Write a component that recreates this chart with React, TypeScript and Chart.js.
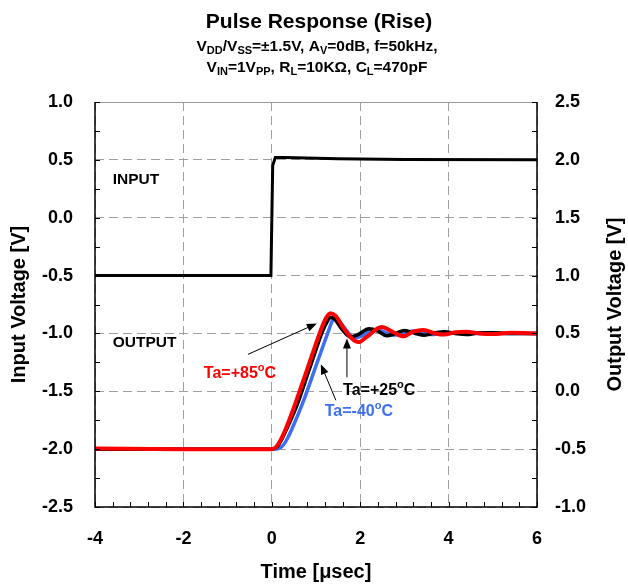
import React, { useEffect, useRef } from "react";
import { Chart, registerables } from "chart.js";

Chart.register(...registerables);

// ---------- data ----------
const inputTime = [-4, -0.02, 0.02, 0.08, 0.3, 1.5, 3, 6];
const inputVolt = [-0.5, -0.5, 0.45, 0.52, 0.52, 0.51, 0.503, 0.5];

const timeM40 = [-4, -2, 0.05, 0.15, 0.25, 0.35, 0.45, 0.7, 1.0, 1.3, 1.37, 1.43, 1.52, 1.68, 1.88, 2.05, 2.3, 2.5, 2.75, 3.0, 3.2, 3.45, 3.65, 3.9, 4.3, 5, 6];
const voltM40 = [-0.5, -0.5, -0.5, -0.495, -0.47, -0.41, -0.33, -0.1, 0.22, 0.54, 0.61, 0.635, 0.61, 0.53, 0.46, 0.48, 0.535, 0.52, 0.485, 0.5, 0.52, 0.5, 0.49, 0.51, 0.5, 0.5, 0.5];

const time25 = [-4, -2, 0, 0.12, 0.22, 0.32, 0.55, 0.85, 1.15, 1.25, 1.33, 1.43, 1.58, 1.78, 1.95, 2.2, 2.4, 2.6, 2.8, 3.0, 3.25, 3.45, 3.7, 3.9, 4.15, 4.4, 4.7, 5.0, 5.5, 6];
const volt25 = [-0.5, -0.5, -0.5, -0.48, -0.42, -0.34, -0.14, 0.19, 0.52, 0.6, 0.64, 0.62, 0.54, 0.47, 0.49, 0.54, 0.52, 0.48, 0.5, 0.525, 0.5, 0.485, 0.505, 0.515, 0.5, 0.49, 0.505, 0.505, 0.5, 0.5];

const time85 = [-4, -2, 0, 0.1, 0.2, 0.3, 0.5, 0.8, 1.1, 1.22, 1.33, 1.45, 1.6, 1.8, 1.96, 2.15, 2.48, 2.75, 2.98, 3.2, 3.43, 3.7, 3.9, 4.15, 4.4, 4.7, 5.0, 5.4, 6];
const volt85 = [-0.495, -0.5, -0.5, -0.48, -0.42, -0.34, -0.14, 0.19, 0.52, 0.63, 0.675, 0.65, 0.56, 0.46, 0.425, 0.47, 0.555, 0.51, 0.475, 0.515, 0.53, 0.5, 0.49, 0.51, 0.515, 0.5, 0.495, 0.505, 0.5];

const xTicks = [-4, -2, 0, 2, 4, 6];
const leftTicks = [1.0, 0.5, 0.0, -0.5, -1.0, -1.5, -2.0, -2.5];
const rightTicks = [2.5, 2.0, 1.5, 1.0, 0.5, 0.0, -0.5, -1.0];

const FONT = "'Liberation Sans', Arial, Helvetica, sans-serif";
const BLUE = "#3d6ff2";
const RED = "#ff0000";

type Run = [string, number]; // 0 normal, 1 sub, 2 sup

function drawRuns(ctx: CanvasRenderingContext2D, runs: Run[], cx: number, y: number, size: number, color: string, align: "center" | "left" = "center") {
  const small = Math.round(size * 0.68);
  const widths = runs.map(([t, m]) => {
    ctx.font = `bold ${m ? small : size}px ${FONT}`;
    return ctx.measureText(t).width;
  });
  const total = widths.reduce((a, b) => a + b, 0);
  let x = align === "center" ? cx - total / 2 : cx;
  ctx.fillStyle = color;
  ctx.textAlign = "left";
  ctx.textBaseline = "alphabetic";
  runs.forEach(([t, m], i) => {
    ctx.font = `bold ${m ? small : size}px ${FONT}`;
    const dy = m === 1 ? size * 0.22 : m === 2 ? -size * 0.45 : 0;
    ctx.fillText(t, x, y + dy);
    x += widths[i];
  });
}

function arrow(ctx: CanvasRenderingContext2D, x1: number, y1: number, x2: number, y2: number) {
  const ang = Math.atan2(y2 - y1, x2 - x1);
  const hl = 10, hw = 4;
  ctx.strokeStyle = "#000";
  ctx.fillStyle = "#000";
  ctx.lineWidth = 1;
  ctx.beginPath();
  ctx.moveTo(x1, y1);
  ctx.lineTo(x2 - Math.cos(ang) * hl * 0.8, y2 - Math.sin(ang) * hl * 0.8);
  ctx.stroke();
  ctx.beginPath();
  ctx.moveTo(x2, y2);
  ctx.lineTo(x2 - Math.cos(ang) * hl - Math.sin(ang) * hw, y2 - Math.sin(ang) * hl + Math.cos(ang) * hw);
  ctx.lineTo(x2 - Math.cos(ang) * hl + Math.sin(ang) * hw, y2 - Math.sin(ang) * hl - Math.cos(ang) * hw);
  ctx.closePath();
  ctx.fill();
}

const decor = {
  id: "decor",
  afterDraw(chart: any) {
    const { ctx, chartArea: a } = chart;
    const xs = chart.scales.x, yl = chart.scales.y, yr = chart.scales.y2;
    ctx.save();
    // top border (gray)
    ctx.strokeStyle = "#9a9a9a";
    ctx.lineWidth = 1;
    ctx.setLineDash([]);
    ctx.beginPath();
    ctx.moveTo(a.left, a.top + 0.5);
    ctx.lineTo(a.right, a.top + 0.5);
    ctx.stroke();
    // minor ticks
    ctx.strokeStyle = "#000";
    ctx.lineWidth = 1;
    ctx.beginPath();
    for (let v = -4; v <= 6.001; v += 0.4) {
      const px = Math.round(xs.getPixelForValue(v)) + 0.5;
      ctx.moveTo(px, a.bottom);
      ctx.lineTo(px, a.bottom - 5);
    }
    for (let v = -2.5; v <= 1.001; v += 0.25) {
      const py = Math.round(yl.getPixelForValue(v)) + 0.5;
      ctx.moveTo(a.left, py);
      ctx.lineTo(a.left + 5, py);
      ctx.moveTo(a.right, py);
      ctx.lineTo(a.right - 5, py);
    }
    ctx.stroke();
    // frame: left, bottom, right
    ctx.lineWidth = 1.5;
    ctx.beginPath();
    ctx.moveTo(a.left, a.top);
    ctx.lineTo(a.left, a.bottom);
    ctx.lineTo(a.right, a.bottom);
    ctx.lineTo(a.right, a.top);
    ctx.stroke();

    // titles
    drawRuns(ctx, [["Pulse Response (Rise)", 0]], 319, 28, 21, "#000");
    drawRuns(ctx, [["V", 0], ["DD", 1], ["/V", 0], ["SS", 1], ["=±1.5V, A", 0], ["V", 1], ["=0dB, f=50kHz,", 0]], 317, 51, 15.5, "#000");
    drawRuns(ctx, [["V", 0], ["IN", 1], ["=1V", 0], ["PP", 1], [", R", 0], ["L", 1], ["=10KΩ, C", 0], ["L", 1], ["=470pF", 0]], 317, 72, 15.5, "#000");

    // axis titles
    ctx.fillStyle = "#000";
    ctx.font = `bold 20px ${FONT}`;
    ctx.textAlign = "center";
    ctx.textBaseline = "middle";
    ctx.fillText("Time [μsec]", (a.left + a.right) / 2, 572);
    const cy = (a.top + a.bottom) / 2;
    ctx.save();
    ctx.translate(19, cy);
    ctx.rotate(-Math.PI / 2);
    ctx.fillText("Input Voltage [V]", 0, 0);
    ctx.restore();
    ctx.save();
    ctx.translate(615, cy);
    ctx.rotate(-Math.PI / 2);
    ctx.fillText("Output Voltage [V]", 0, 0);
    ctx.restore();

    // labels
    const X = (v: number) => xs.getPixelForValue(v);
    const YL = (v: number) => yl.getPixelForValue(v);
    const YR = (v: number) => yr.getPixelForValue(v);
    drawRuns(ctx, [["INPUT", 0]], X(-3.6), YL(0.29), 15.5, "#000", "left");
    drawRuns(ctx, [["OUTPUT", 0]], X(-3.6), YL(-1.12), 15.5, "#000", "left");
    drawRuns(ctx, [["Ta=+85", 0], ["o", 2], ["C", 0]], X(-0.72), YR(0.112), 16, RED);
    drawRuns(ctx, [["Ta=+25", 0], ["o", 2], ["C", 0]], X(2.43), YR(-0.034), 16, "#000");
    drawRuns(ctx, [["Ta=-40", 0], ["o", 2], ["C", 0]], X(1.97), YR(-0.216), 16, BLUE);
    arrow(ctx, X(-0.54), YR(0.319), X(1.02), YR(0.586));
    arrow(ctx, X(1.7), YR(0.121), X(1.7), YR(0.457));
    arrow(ctx, X(1.45), YR(-0.078), X(1.11), YR(0.233));
    ctx.restore();
  },
};

const pts = (t: number[], v: number[]) => t.map((x, i) => ({ x, y: v[i] }));

export default function App() {
  const ref = useRef<HTMLCanvasElement>(null);
  useEffect(() => {
    const canvas = ref.current!;
    const tickFont = { family: FONT, size: 18, weight: "bold" as const };
    const chart = new Chart(canvas, {
      type: "scatter",
      data: {
        datasets: [
          { label: "input", data: pts(inputTime, inputVolt), yAxisID: "y", borderColor: "#000", borderWidth: 3, showLine: true, pointRadius: 0, tension: 0, order: 3 },
          { label: "Ta=-40", data: pts(timeM40, voltM40), yAxisID: "y2", borderColor: BLUE, borderWidth: 3.5, showLine: true, pointRadius: 0, cubicInterpolationMode: "monotone", order: 2 },
          { label: "Ta=+25", data: pts(time25, volt25), yAxisID: "y2", borderColor: "#000", borderWidth: 3.5, showLine: true, pointRadius: 0, cubicInterpolationMode: "monotone", order: 1 },
          { label: "Ta=+85", data: pts(time85, volt85), yAxisID: "y2", borderColor: RED, borderWidth: 4, showLine: true, pointRadius: 0, cubicInterpolationMode: "monotone", order: 0 },
        ] as any,
      },
      options: {
        responsive: false,
        animation: false,
        devicePixelRatio: 1,
        layout: { padding: { top: 102, left: 0, right: 0, bottom: 0 } },
        plugins: { legend: { display: false }, tooltip: { enabled: false }, title: { display: false } },
        scales: {
          x: {
            type: "linear",
            min: -4,
            max: 6,
            afterBuildTicks: (s: any) => { s.ticks = xTicks.map((value) => ({ value })); },
            afterFit: (s: any) => { s.height = 78; },
            ticks: { font: tickFont, color: "#000", padding: 21, autoSkip: false, maxRotation: 0, callback: (v: any) => String(v) },
            grid: { color: "#a0a0a0", lineWidth: 1, drawTicks: false },
            border: { display: false, dash: [9, 5] },
          },
          y: {
            type: "linear",
            position: "left",
            min: -2.5,
            max: 1.0,
            afterBuildTicks: (s: any) => { s.ticks = leftTicks.map((value) => ({ value })); },
            afterFit: (s: any) => { s.width = 95; },
            ticks: { font: tickFont, color: "#000", padding: 22, autoSkip: false, callback: (v: any) => Number(v).toFixed(1) },
            grid: { color: "#a0a0a0", lineWidth: 1, drawTicks: false },
            border: { display: false, dash: [9, 5] },
          },
          y2: {
            type: "linear",
            position: "right",
            min: -1.0,
            max: 2.5,
            afterBuildTicks: (s: any) => { s.ticks = rightTicks.map((value) => ({ value })); },
            afterFit: (s: any) => { s.width = 91; },
            ticks: { font: tickFont, color: "#000", padding: 18, autoSkip: false, callback: (v: any) => Number(v).toFixed(1) },
            grid: { display: false, drawTicks: false },
            border: { display: false },
          },
        },
      } as any,
      plugins: [decor],
    });
    return () => chart.destroy();
  }, []);
  return (
    <div style={{ position: "fixed", left: 0, top: 0, width: 628, height: 585, background: "#fff" }}>
      <canvas ref={ref} width={628} height={585} style={{ display: "block" }} />
    </div>
  );
}
